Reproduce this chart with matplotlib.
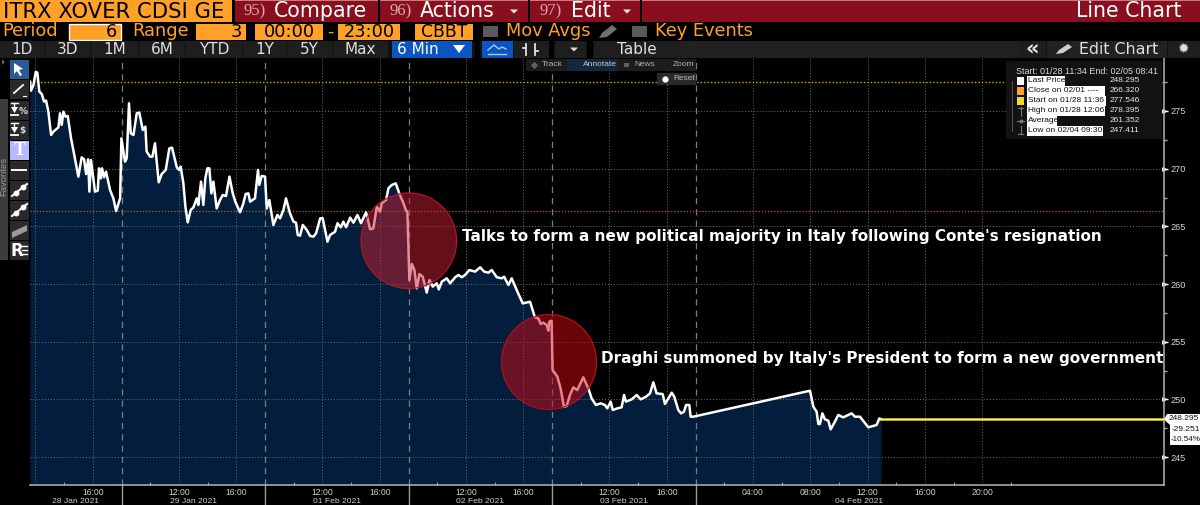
#Bloomberg style line chart of the iTraxx Crossover spread, 28 Jan to 04 Feb 2021
#Time axis is in session hours since 28 Jan 08:00, nights are cut out of the axis

import matplotlib
matplotlib.use("Agg")
import matplotlib.pyplot as plt
from matplotlib.patches import Rectangle, Circle, Polygon

#Spread values
hours = [3.62, 3.69, 3.86, 4.02, 4.13, 4.27, 4.44, 4.60, 4.74, 4.90, 5.09, 5.25, 5.60, 5.71, 5.83, 5.95, 6.09, 6.25, 6.48, 6.64,
         6.99, 7.22, 7.39, 7.53, 7.67, 7.76, 7.87, 8.15, 8.34, 8.43, 8.55, 8.64, 8.78, 8.92, 9.20, 9.43, 9.62, 9.90, 9.99, 10.24,
         10.36, 10.52, 10.64, 10.83, 11.06, 11.24, 11.48, 11.66, 11.75, 11.99, 12.15, 12.33, 12.59, 12.80, 13.08, 13.33, 13.52, 13.85, 14.01, 14.12,
         14.31, 14.45, 14.61, 14.82, 15.01, 15.24, 15.35, 15.54, 15.70, 15.84, 15.98, 16.12, 16.26, 16.40, 16.63, 16.86, 17.05, 17.28, 17.52, 17.75,
         17.93, 18.26, 18.49, 18.65, 18.84, 18.96, 19.30, 19.51, 19.60, 19.77, 20.00, 20.12, 20.30, 20.58, 20.86, 21.05, 21.28, 21.46, 21.74, 21.98,
         22.16, 22.28, 22.44, 22.63, 22.91, 23.14, 23.37, 23.56, 23.84, 24.02, 24.35, 24.53, 24.88, 25.05, 25.28, 25.46, 25.65, 25.93, 26.16, 26.44,
         26.69, 27.04, 27.32, 27.55, 27.79, 28.02, 28.13, 28.44, 28.60, 28.83, 29.11, 29.37, 29.65, 29.83, 29.92, 30.06, 30.23, 30.41, 30.57, 30.76,
         30.99, 31.27, 31.46, 31.69, 31.97, 32.11, 32.32, 32.66, 32.90, 33.25, 33.48, 33.71, 33.94, 34.24, 34.64, 34.99, 35.27, 35.57, 35.80, 36.15,
         36.50, 36.66, 36.96, 37.19, 37.59, 37.96, 38.47, 38.81, 39.05, 39.21, 39.39, 39.63, 39.74, 39.81, 39.97, 40.04, 40.37, 40.60, 40.83, 41.02,
         41.25, 41.48, 41.76, 42.18, 42.53, 42.76, 43.06, 43.39, 43.69, 43.85, 44.09, 44.23, 44.55, 44.85, 45.02, 45.15, 45.55, 45.90, 46.18, 46.55,
         46.83, 47.06, 47.29, 47.71, 47.87, 48.11, 48.34, 48.52, 48.80, 48.99, 49.20, 49.34, 49.57, 49.66, 49.85, 57.98, 58.21, 58.44, 58.56, 58.67,
         58.84, 59.02, 59.26, 59.42, 59.65, 59.95, 60.30, 60.88, 61.11, 61.46, 62.04, 62.62, 62.81, 62.93]
spread = [277.54, 276.76, 277.25, 278.395, 278.32, 276.68, 276.47, 275.81, 275.90, 274.94, 272.92, 273.21, 273.58, 274.80, 273.79, 274.94, 274.51, 274.57, 272.63, 271.62,
          269.31, 270.98, 270.81, 269.54, 270.81, 268.01, 270.75, 268.01, 268.10, 270.03, 269.16, 270.03, 269.25, 269.74, 268.15, 267.43, 266.33, 267.43, 272.63, 270.61,
          270.90, 275.66, 273.06, 272.92, 274.80, 274.86, 273.35, 273.64, 271.48, 271.04, 271.04, 272.20, 268.82, 269.54, 269.89, 271.76, 271.82, 270.12, 269.89, 270.18,
          268.73, 266.71, 265.35, 266.42, 266.65, 267.43, 266.85, 268.88, 266.85, 269.16, 270.03, 270.03, 267.86, 268.88, 266.56, 267.28, 267.72, 267.63, 269.31, 267.86,
          267.14, 266.22, 267.00, 267.81, 267.86, 267.14, 267.43, 269.89, 268.59, 269.37, 269.31, 266.56, 267.28, 265.12, 265.99, 265.70, 266.42, 267.43, 266.13, 265.41,
          265.32, 264.25, 264.19, 265.12, 264.69, 264.17, 264.11, 264.40, 265.70, 265.70, 263.67, 264.25, 264.54, 265.27, 264.92, 265.41, 264.92, 265.76, 265.32, 265.99,
          265.27, 266.22, 264.75, 264.83, 266.71, 266.28, 267.00, 267.29, 268.30, 268.59, 268.73, 267.81, 267.00, 266.36, 266.28, 260.35, 261.74, 261.22, 259.63, 260.87,
          260.64, 259.26, 260.35, 259.78, 260.07, 259.54, 260.21, 260.50, 260.07, 260.59, 260.79, 260.59, 260.79, 261.22, 261.08, 261.45, 261.08, 260.99, 261.22, 260.59,
          260.50, 260.64, 259.92, 260.50, 259.34, 258.33, 258.47, 257.12, 257.03, 256.54, 256.66, 256.45, 255.96, 256.74, 256.83, 252.56, 251.98, 250.96, 249.38, 249.44,
          250.39, 251.05, 250.82, 251.92, 250.96, 250.10, 249.52, 249.67, 249.52, 249.23, 249.81, 249.09, 249.23, 249.32, 250.39, 249.81, 250.01, 250.39, 250.01, 250.24,
          250.53, 251.49, 250.53, 250.47, 249.61, 250.10, 250.59, 250.24, 249.09, 248.80, 248.94, 249.52, 249.52, 248.51, 248.51, 250.76, 249.38, 248.94, 247.87, 247.87,
          248.80, 248.28, 248.16, 247.411, 247.93, 248.66, 248.45, 248.80, 248.51, 248.51, 247.59, 247.79, 248.36, 248.295]

last_price = 248.295
close_0201 = 266.320
start_price = 277.546

#Axis labels
y_ticks = [245, 250, 255, 260, 265, 270, 275]
y_minor = [247.5, 252.5, 257.5, 262.5, 267.5, 272.5, 277.5]
hour_ticks = [8, 14, 18, 24, 28, 34, 38, 44, 48, 54, 58, 62, 66, 70]
hour_labels = ["16:00", "12:00", "16:00", "12:00", "16:00", "12:00", "16:00", "12:00", "16:00", "04:00", "08:00", "12:00", "16:00", "20:00"]
hour_minor = [6, 12, 16, 22, 26, 32, 36, 42, 46, 52, 56, 60, 64, 68, 72]
day_breaks = [10, 20, 30, 40, 50]
date_pos = [6.8, 15, 25, 35, 45, 61.4]
date_labels = ["28 Jan 2021", "29 Jan 2021", "01 Feb 2021", "02 Feb 2021", "03 Feb 2021", "04 Feb 2021"]

#Legend table
legend_labels = ["Last Price", "Close on 02/01 ----", "Start on 01/28 11:36", "High on 01/28 12:06", "Average", "Low on 02/04 09:30"]
legend_values = ["248.295", "266.320", "277.546", "278.395", "261.352", "247.411"]
legend_ends = [1065, 1105, 1106, 1105, 1057, 1103]

W, H = 1200, 505
fig = plt.figure(figsize=(W / 100, H / 100), dpi=100, facecolor="black")
plt.rcParams["font.family"] = ["Liberation Sans", "DejaVu Sans"]

#Chart area
ax = fig.add_axes([30 / W, 1 - 485 / H, (1164 - 30) / W, (485 - 58) / H], zorder=1, facecolor="black")
ax.set_xlim(3.62, 82.65)
ax.set_ylim(242.59, 279.59)

ax.fill_between(hours, spread, 242.59, color="#021e3c", lw=0, zorder=1)
for y in y_ticks:
    ax.axhline(y, color="#6e6e6e", lw=0.7, ls=(0, (1, 2)), zorder=2)
for x in [4] + hour_ticks:
    ax.axvline(x, color="#6e6e6e", lw=0.7, ls=(0, (1, 2)), zorder=2)
for x in day_breaks:
    ax.axvline(x, color="#7c7c7c", lw=0.9, ls=(0, (5, 4)), zorder=2)
    ax.plot([x, x], [0, -0.047], color="#9a9a9a", lw=1.0, transform=ax.get_xaxis_transform(), clip_on=False)

ax.axhline(start_price, color="#d0a800", lw=1.0, ls=(0, (1, 1.5)), zorder=2)
ax.axhline(close_0201, color="#a8690f", lw=0.9, ls=(0, (1, 1.5)), zorder=2)

ax.plot(hours, spread, color="white", lw=1.8, zorder=4, solid_joinstyle="round")
ax.plot([hours[-1], 82.65], [last_price, last_price], color="#f4dc1e", lw=1.8, zorder=4)
ax.plot([hours[-1], 82.65], [last_price, last_price], color="#fff8c0", lw=0.5, zorder=4)

ax.yaxis.tick_right()
ax.set_yticks(y_ticks)
ax.set_yticklabels([str(y) for y in y_ticks], color="#d8d8d8", fontsize=6.6)
ax.set_yticks(y_minor, minor=True)
ax.tick_params(axis="y", which="major", length=3, width=1, color="white", pad=2)
ax.tick_params(axis="y", which="minor", length=2, width=1, color="#b0b0b0")
ax.plot([1] * len(y_ticks), y_ticks, ls="", marker=">", ms=2.5, color="white", transform=ax.get_yaxis_transform(), clip_on=False)

ax.set_xticks(hour_ticks)
ax.set_xticklabels(hour_labels, color="#d0d0d0", fontsize=6.2)
ax.set_xticks(hour_minor, minor=True)
ax.tick_params(axis="x", which="major", length=0, pad=2)
ax.tick_params(axis="x", which="minor", direction="in", length=2, width=0.8, color="#a0a0a0")
for x, s in zip(date_pos, date_labels):
    ax.text(x, -0.038, s, color="#d0d0d0", fontsize=6.1, ha="center", va="center", transform=ax.get_xaxis_transform())

for side in ["top", "left"]:
    ax.spines[side].set_visible(False)
for side in ["right", "bottom"]:
    ax.spines[side].set_color("#b4b4b4")
    ax.spines[side].set_linewidth(1.1)

#Everything around the chart is drawn on a pixel sized layer on top
top = fig.add_axes([0, 0, 1, 1], zorder=5)
top.set_xlim(0, W)
top.set_ylim(H, 0)
top.axis("off")
top.patch.set_alpha(0)


def box(x0, y0, x1, y1, color, **kw):
    r = Rectangle((x0, y0), x1 - x0, y1 - y0, facecolor=color, lw=kw.pop("lw", 0), **kw)
    top.add_patch(r)
    return r


def label(x, y, s, color="white", size=10, ha="left", family="DejaVu Sans", **kw):
    return top.text(x, y, s, color=color, fontsize=size, ha=ha, va="center", family=family, **kw)


#Title bar
orange = "#ffa028"
red = "#8a0f1e"
title_box = box(0, 0, 232, 22, orange)
t = label(3, 11.5, "ITRX XOVER CDSI GE", color="black", size=15.2)
t.set_clip_path(Rectangle((0, 0), 231, 22, transform=top.transData))
for x0, x1 in [(235, 378), (380, 528), (530, 640), (642, 1200)]:
    box(x0, 0, x1, 22, red)
    box(x0, 0, x1, 0.8, "#c87a80")
label(244, 11, "95)", color="#d8a8ac", size=12, family="Liberation Serif")
label(274, 11, "Compare", size=14.8)
label(389, 11, "96)", color="#d8a8ac", size=12, family="Liberation Serif")
label(420, 11, "Actions", size=14.8)
label(540, 11, "97)", color="#d8a8ac", size=12, family="Liberation Serif")
label(571, 11, "Edit", size=14.8)
for x in [514, 627]:
    top.add_patch(Polygon([[x - 4, 9.5], [x + 4, 9.5], [x, 13.5]], facecolor="#e8e8e8", lw=0))
label(1182, 11, "Line Chart", size=14.8, ha="right")

#Period and range row
label(2, 31.5, "Period", color=orange, size=12.8)
box(69, 24, 121, 39.5, orange, edgecolor="white", lw=1.0)
label(117, 32, "6", color="black", size=12.8, ha="right")
label(132, 31.5, "Range", color=orange, size=12.8)
box(196, 24, 246, 39.5, orange)
label(242, 32, "3", color="black", size=12.8, ha="right")
box(255, 24, 323, 39.5, orange)
label(289, 32, "00:00", color="black", size=12.8, ha="center")
label(330, 32, "-", color=orange, size=12.8, ha="center")
box(338, 24, 400, 39.5, orange)
label(369, 32, "23:00", color="black", size=12.8, ha="center")
box(415, 24, 473, 39.5, orange)
label(444, 32, "CBBT", color="black", size=12.4, ha="center")
box(483, 26, 498, 37, "#5a5a5a")
label(506, 31.5, "Mov Avgs", color=orange, size=12.8)
top.add_patch(Polygon([[599, 38], [602, 33], [612, 25], [617, 29], [607, 37]], facecolor="#707070", lw=0))
box(632, 26, 647, 37, "#5a5a5a")
label(655, 31.5, "Key Events", color=orange, size=12.8)

#Button row
box(0, 41, 1200, 58, "#111111")
for x0, x1, s in [(0, 44, "1D"), (45, 90, "3D"), (91, 138, "1M"), (139, 185, "6M"), (186, 242, "YTD"), (243, 286, "1Y"),
                  (287, 332, "5Y"), (333, 388, "Max")]:
    box(x0, 41, x1, 58, "#1e1e1e")
    label((x0 + x1) / 2, 49.5, s, color="#e0e0e0", size=11, ha="center")
box(392, 41, 472, 58, "#0a55c0")
label(397, 49.5, "6 Min", color="white", size=11)
top.add_patch(Polygon([[453, 45], [465, 45], [459, 53]], facecolor="white", lw=0))
box(475, 41, 480, 58, "black")
box(482, 41, 513, 58, "#0a55c0")
top.plot([488, 494, 499, 502, 506], [50, 45, 49, 47, 49], color="#a8c8f0", lw=1)
top.plot([488, 506], [54, 54], color="#a8c8f0", lw=1)
box(514, 41, 549, 58, "#1e1e1e")
for x in [526, 535]:
    top.plot([x, x], [44, 55], color="#e0e0e0", lw=1.3)
top.plot([523, 526], [48, 48], color="#e0e0e0", lw=1.3)
top.plot([535, 538], [51, 51], color="#e0e0e0", lw=1.3)
box(549, 41, 554, 58, "black")
box(555, 41, 586, 58, "#1e1e1e")
top.add_patch(Polygon([[570, 47.5], [578, 47.5], [574, 51.5]], facecolor="#d8d8d8", lw=0))
box(587, 41, 593, 58, "black")
box(594, 41, 680, 58, "#1e1e1e")
label(637, 49.5, "Table", color="#e0e0e0", size=11, ha="center")
box(680, 41, 1018, 58, "#222020")
box(1018, 41, 1046, 58, "#1e1e1e")
label(1032, 48.5, "«", color="#e8e8e8", size=15, ha="center", weight="bold")
box(1047, 41, 1167, 58, "#222222")
top.add_patch(Polygon([[1056, 54], [1059, 50], [1068, 44], [1072, 47], [1063, 53]], facecolor="#cfcfcf", lw=0))
label(1079, 49.5, "Edit Chart", color="#e0e0e0", size=11.4)
box(1168, 41, 1200, 58, "#1e1e1e")
label(1183, 49, "✹", color="#e0e0e0", size=10, ha="center")

#Drawing tools down the left side
box(0, 99, 8, 260, "#3c3c3c")
label(3.8, 176, "Favorites", color="#9a9a9a", size=6.8, ha="center", rotation=90, family="Liberation Sans")
top.add_patch(Polygon([[2, 59], [5, 62], [2, 65]], facecolor="#606060", lw=0))
button_tops = [60, 80, 101, 121, 141, 161, 181, 201, 221, 241]
for i, y0 in enumerate(button_tops):
    col = "#2a5a94" if i == 0 else "#b8b8ff" if i == 4 else "#2a2a2a"
    box(10, y0, 29, y0 + 18.5, col)
top.add_patch(Polygon([[14, 63], [14, 74], [17, 71], [20, 76], [22, 75], [19, 70], [23, 69]], facecolor="white", lw=0))
top.plot([14, 23], [93, 85], color="white", lw=1.3)
top.plot([23, 26], [96, 96], color="white", lw=0.8)
for y0, s in [(101, "%"), (121, "$")]:
    top.plot([14, 14], [y0 + 2, y0 + 9], color="white", lw=1)
    top.plot([11, 18], [y0 + 2, y0 + 2], color="white", lw=1)
    top.plot([11, 18], [y0 + 14, y0 + 14], color="white", lw=1.3)
    top.add_patch(Polygon([[11, y0 + 6], [18, y0 + 6], [14.5, y0 + 12]], facecolor="white", lw=0))
    label(19, y0 + 10, s, color="#d8d8d8", size=6.5, weight="bold")
label(19.5, 150.5, "T", color="white", size=13, ha="center", family="Liberation Serif", weight="bold")
top.plot([12, 26], [170, 170], color="white", lw=1.4)
for y0 in [181, 201]:
    top.plot([12, 27], [y0 + 15, y0 + 3], color="white", lw=1.4)
    top.plot([15.5, 23], [y0 + 12, y0 + 6], ls="", marker="o", ms=3.2, color="white")
top.add_patch(Polygon([[12, 232], [27, 225], [27, 231], [12, 238]], facecolor="#9a9a9a", lw=0))
label(11, 250.5, "R", color="white", size=12, weight="bold")
for y in [246, 250, 254]:
    top.plot([22, 27], [y, y], color="white", lw=1)

#Small chart menu
box(526, 59, 696, 71, "#1c1c1c")
box(567, 59, 617, 71, "#13283c")
label(542, 65, "Track", color="#b0b0b0", size=6, family="Liberation Sans")
label(583, 65, "Annotate", color="#c8c8c8", size=6, family="Liberation Sans")
label(634, 65, "News", color="#b0b0b0", size=6, family="Liberation Sans")
label(673, 65, "Zoom", color="#b0b0b0", size=6, family="Liberation Sans")
box(657, 73, 696, 85, "#2a2a2a")
label(673, 79, "Reset", color="#b8b8b8", size=6, family="Liberation Sans")
top.plot([665], [79], ls="", marker="o", ms=3.5, color="white")
top.plot([534], [65], ls="", marker="P", ms=3.5, color="#606060")
box(624, 62.5, 629, 67, "#606060")

#Legend box
box(1006, 61, 1162, 139, "#121212")
label(1016, 71, "Start: 01/28 11:34 End: 02/05 08:41", color="#d8d8d8", size=6.5, family="Liberation Sans")
row_y = [81, 91, 101, 111, 121, 131]
for y, s, v, end in zip(row_y, legend_labels, legend_values, legend_ends):
    box(1027, y - 5, end, y + 5, "white")
    label(1027.5, y, s, color="#101010", size=6.0, family="Liberation Sans")
    label(1110, y, v, color="#e8e8e8", size=6.0, family="Liberation Sans")
box(1017, 77, 1024, 85, "white")
box(1017, 87, 1024, 95, orange)
box(1017, 97, 1024, 105, "#f4d52a")
top.plot([1012, 1012], [81, 131], color="#555555", lw=0.7)
top.plot([1020.5, 1020.5], [107, 116], color="#777777", lw=0.8)
top.plot([1018, 1023], [107.5, 107.5], color="#777777", lw=0.8)
top.plot([1017, 1024], [121, 121], color="#777777", lw=0.8)
top.plot([1020.5], [121], ls="", marker="o", ms=1.8, color="#777777")
top.plot([1020.5, 1020.5], [126, 134], color="#777777", lw=0.8)
top.plot([1018, 1023], [134, 134], color="#777777", lw=0.8)

#Tag for the last price
top.add_patch(Polygon([[1164, 419.5], [1167, 414], [1200, 414], [1200, 445], [1170, 445], [1170, 425]], facecolor="white", lw=0))
label(1168.5, 419, "248.295", color="#101010", size=6.0, family="Liberation Sans")
label(1172, 429.5, "-29.251", color="#101010", size=6.0, family="Liberation Sans")
label(1170.5, 439.5, "-10.54%", color="#101010", size=5.8, family="Liberation Sans")

#Highlighted events
top.add_patch(Circle((408.8, 240.8), 47.8, facecolor=(200 / 255, 30 / 255, 50 / 255, 0.5), edgecolor="#b01428", lw=0.9))
top.add_patch(Circle((549, 362), 47.5, facecolor=(210 / 255, 10 / 255, 20 / 255, 0.5), edgecolor="#b00f1c", lw=0.9))
label(462, 237, "Talks to form a new political majority in Italy following Conte's resignation", size=11, weight="bold")
label(601, 358, "Draghi summoned by Italy's President to form a new government", size=10.95, weight="bold")

fig.savefig("out.png", dpi=100, facecolor="black")
